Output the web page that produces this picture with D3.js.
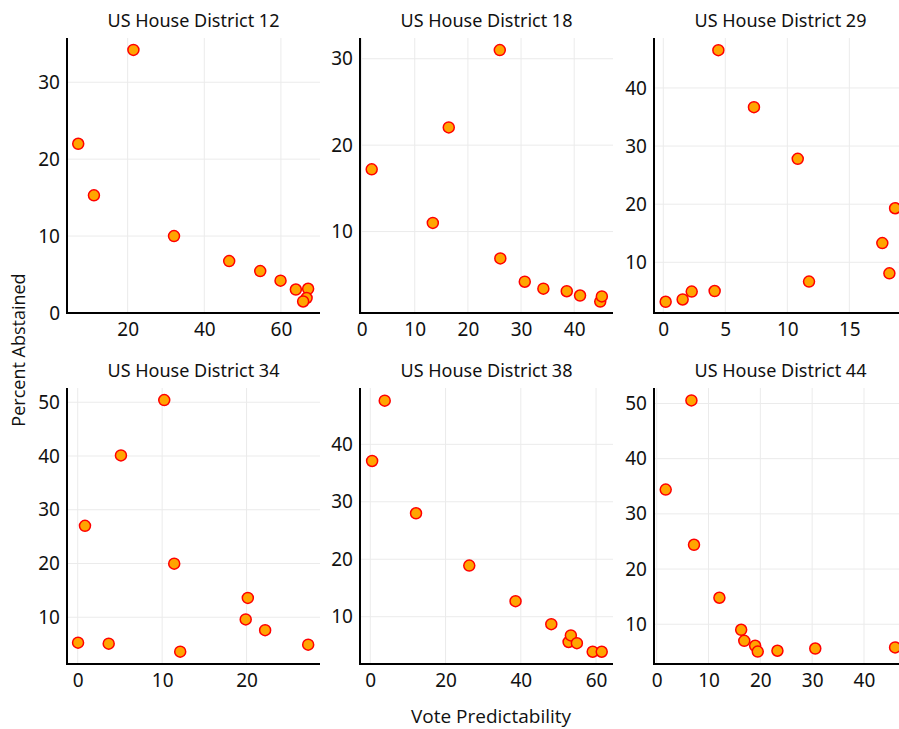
<!DOCTYPE html>
<html>
<head>
<meta charset="utf-8">
<script src="https://cdn.jsdelivr.net/npm/d3@7"></script>
<style>
  html, body { margin: 0; padding: 0; background: #fff; }
  svg { display: block; }
  text { font-family: "Noto Sans", "Open Sans", sans-serif; fill: #111; }
</style>
</head>
<body>
<svg id="chart" width="899" height="729"></svg>
<script>
// ---- data ----
const districts = ["US House District 12", "US House District 18", "US House District 29",
                   "US House District 34", "US House District 38", "US House District 44"];

const d12x = [7.1, 11.2, 21.5, 32.1, 46.5, 54.6, 59.9, 63.9, 67.1, 66.7, 65.8];
const d12y = [22.0, 15.3, 34.2, 10.0, 6.75, 5.45, 4.2, 3.05, 3.15, 1.95, 1.5];

const d18x = [1.9, 13.4, 16.4, 26.0, 26.1, 30.7, 34.2, 38.6, 41.1, 44.9, 45.2];
const d18y = [17.2, 11.0, 22.05, 31.0, 6.9, 4.2, 3.4, 3.1, 2.6, 1.9, 2.5];

const d29x = [0.19, 1.56, 2.29, 4.14, 4.44, 7.31, 10.84, 11.75, 17.66, 18.23, 18.69];
const d29y = [3.2, 3.6, 4.95, 5.05, 46.5, 36.7, 27.8, 6.67, 13.3, 8.1, 19.3];

const d34x = [0.04, 0.86, 3.67, 5.12, 10.25, 11.43, 12.14, 19.9, 20.15, 22.2, 27.3];
const d34y = [5.27, 27.0, 5.08, 40.1, 50.4, 19.97, 3.6, 9.6, 13.6, 7.6, 4.9];

const d38x = [0.48, 3.83, 12.15, 26.3, 38.6, 48.1, 52.7, 53.3, 54.9, 59.1, 61.5];
const d38y = [37.1, 47.6, 28.0, 18.9, 12.7, 8.7, 5.6, 6.75, 5.4, 3.9, 3.9];

const d44x = [1.74, 6.7, 7.2, 12.1, 16.3, 16.9, 19.0, 19.5, 23.3, 30.6, 46.0];
const d44y = [34.4, 50.55, 24.4, 14.8, 9.0, 7.0, 6.1, 5.05, 5.2, 5.6, 5.8];

const seriesX = [d12x, d18x, d29x, d34x, d38x, d44x];
const seriesY = [d12y, d18y, d29y, d34y, d38y, d44y];

// axis ranges per panel
const xDomains = [[4.17, 70.2], [-0.3, 47.3], [-0.75, 19.65], [-1.27, 28.7], [-2.74, 64.5], [-0.52, 48.3]];
const yDomains = [[0, 35.75], [0.58, 32.4], [1.27, 48.6], [1.3, 52.65], [1.77, 49.8], [2.8, 52.8]];

// tick labels per panel
const xTicks = [[20, 40, 60], [0, 10, 20, 30, 40], [0, 5, 10, 15], [0, 10, 20], [0, 20, 40, 60], [0, 10, 20, 30, 40]];
const yTicks = [[0, 10, 20, 30], [10, 20, 30], [10, 20, 30, 40], [10, 20, 30, 40, 50], [10, 20, 30, 40], [10, 20, 30, 40, 50]];

const xTitle = "Vote Predictability";
const yTitle = "Percent Abstained";

// ---- layout ----
const colLefts = [67, 360, 654];
const rowTops = [38, 388];
const panelW = 253;
const panelH = [275, 276];

const svg = d3.select("#chart");

districts.forEach((name, i) => {
  const col = i % 3, row = Math.floor(i / 3);
  const left = colLefts[col], top = rowTops[row], h = panelH[row];
  const x = d3.scaleLinear().domain(xDomains[i]).range([left, left + panelW]);
  const y = d3.scaleLinear().domain(yDomains[i]).range([top + h, top]);

  const g = svg.append("g");

  // grid lines
  g.append("g").selectAll("line").data(xTicks[i]).join("line")
    .attr("x1", d => x(d)).attr("x2", d => x(d))
    .attr("y1", top).attr("y2", top + h)
    .attr("stroke", "#ebebeb").attr("stroke-width", 1);
  g.append("g").selectAll("line").data(yTicks[i]).join("line")
    .attr("x1", left).attr("x2", left + panelW)
    .attr("y1", d => y(d)).attr("y2", d => y(d))
    .attr("stroke", "#ebebeb").attr("stroke-width", 1);

  // axes
  const xAxis = d3.axisBottom(x).tickValues(xTicks[i]).tickSize(0).tickPadding(10);
  const yAxis = d3.axisLeft(y).tickValues(yTicks[i]).tickSize(0).tickPadding(7);

  const gx = g.append("g").attr("transform", `translate(0,${top + h})`).call(xAxis);
  const gy = g.append("g").attr("transform", `translate(${left},0)`).call(yAxis);
  [gx, gy].forEach(a => {
    a.select(".domain").attr("stroke", "#000").attr("stroke-width", 2);
    a.selectAll("text").attr("font-size", 19).attr("fill", "#111")
      .style("font-family", '"Noto Sans", sans-serif');
  });
  gx.select(".domain").attr("d", `M${left - 1},0H${left + panelW}`);
  gy.select(".domain").attr("d", `M0,${top}V${top + h + 1}`);

  // title
  g.append("text")
    .attr("x", left + panelW / 2).attr("y", top - 11.5)
    .attr("text-anchor", "middle")
    .attr("font-size", 18)
    .attr("fill", "#222")
    .text(name);

  // points
  const pts = seriesX[i].map((v, k) => [v, seriesY[i][k]]);
  g.append("g").selectAll("circle").data(pts).join("circle")
    .attr("cx", d => x(d[0])).attr("cy", d => y(d[1]))
    .attr("r", 5.5)
    .attr("fill", "#FFA500")
    .attr("stroke", "#FF0000")
    .attr("stroke-width", 1.5);
});

// axis titles
svg.append("text")
  .attr("x", 491).attr("y", 723)
  .attr("text-anchor", "middle")
  .attr("font-size", 19)
  .style("font-family", '"Open Sans", sans-serif')
  .text(xTitle);

svg.append("text")
  .attr("transform", "translate(25,350) rotate(-90)")
  .attr("text-anchor", "middle")
  .attr("font-size", 18)
  .style("font-family", '"Open Sans", sans-serif')
  .text(yTitle);
</script>
</body>
</html>
